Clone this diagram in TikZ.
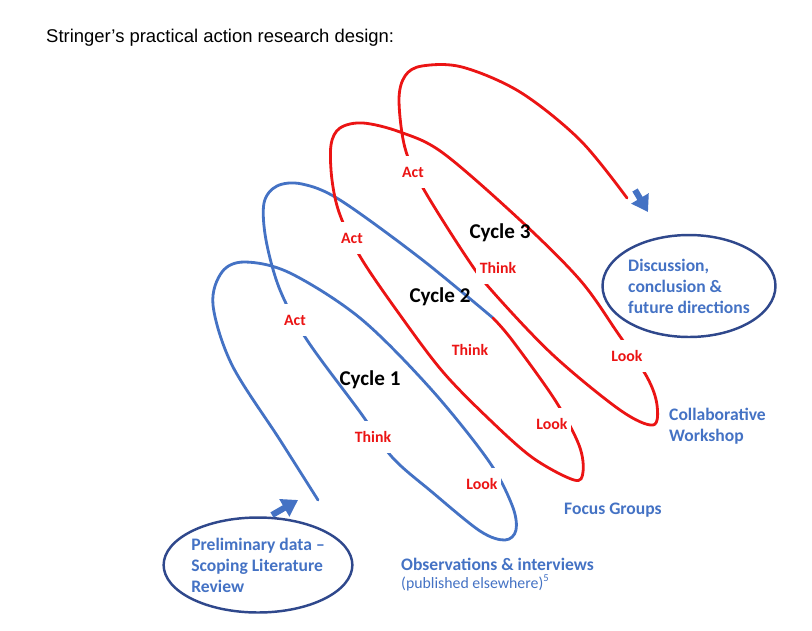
\documentclass[tikz,border=0pt]{standalone}
\usepackage{fontspec}
\setmainfont{Carlito}
\newfontfamily\titlefont{Liberation Sans}
\usetikzlibrary{arrows.meta,shapes.geometric}
\definecolor{cycblue}{RGB}{68,114,196}
\definecolor{darkblue}{RGB}{47,72,140}
\definecolor{cycred}{RGB}{235,20,20}
\begin{document}
\begin{tikzpicture}[x=0.02cm,y=-0.02cm,
    loop/.style={line width=1.6pt,line cap=round},
    phase/.style={fill=white,inner xsep=2pt,inner ysep=6pt,text=cycred,font=\bfseries\small},
    cyc/.style={font=\bfseries\large},
    blab/.style={text=cycblue,font=\bfseries,align=left},
    stage/.style={draw=darkblue,line width=1.4pt,ellipse,minimum width=3.52cm,minimum height=1.9cm,
                  text=cycblue,font=\bfseries,align=left,inner sep=0pt},
    big/.style={-{Triangle[length=9pt,width=11pt]},line width=3.5pt,cycblue}]
  \useasboundingbox (0,0) rectangle (812,630);
  \node[anchor=west,font=\titlefont\fontsize{10.5}{12}\selectfont] (title) at (40,38) {Stringer’s practical action research design:};

  % the spiral
  \draw[loop,cycblue] plot[smooth,tension=0.55] coordinates {(318,500) (280,440) (232,365) (213,305)
      (222,272) (245,262) (290,273) (360,318) (430,388) (488,460) (512,505) (516,530) (505,540)
      (480,531) (432,492) (392,457) (360,412) (307,340) (280,290) (266,240) (264,203) (277,186)
      (302,184) (340,200) (420,258) (493,318)};
  \draw[loop,cycred] plot[smooth,tension=0.55] coordinates {(493,318) (512,340) (555,400) (579,445)
      (583,472) (574,480) (533,458) (490,420) (443,372) (400,315) (361,258) (340,215) (332,180)
      (331,145) (340,128) (363,123) (400,132) (443,153) (520,220) (580,280) (617,332) (647,377)
      (657,405) (653,425) (620,410) (553,355) (493,292) (467,258) (423,188) (405,148) (399,100)
      (405,76) (422,66) (462,67) (520,92) (580,140) (627,198)};

  % labels on the loops
  \node[phase] (act1) at (295,320) {Act};
  \node[phase] (think1) at (373,437) {Think};
  \node[phase] (look1) at (482,484) {Look};
  \node[phase] (act2) at (352,238) {Act};
  \node[phase] (think2) at (470,350) {Think};
  \node[phase] (look2) at (552,424) {Look};
  \node[phase] (act3) at (413,172) {Act};
  \node[phase] (think3) at (498,268) {Think};
  \node[phase] (look3) at (627,356) {Look};
  \node[cyc] (c1) at (370,380) {Cycle 1};
  \node[cyc] (c2) at (440,297) {Cycle 2};
  \node[cyc] (c3) at (500,233) {Cycle 3};

  % stages
  \node[stage] (prelim) at (258,565) {Preliminary data –\\Scoping Literature\\Review};
  \node[stage,minimum width=3.46cm,minimum height=2.04cm] (disc) at (689,286) {Discussion,\\conclusion \&\\future directions};
  \node[blab,anchor=north west] (obs) at (395,552) {Observations \& interviews\\[-2pt]{\mdseries\small (published elsewhere)\textsuperscript{5}}};
  \node[blab,anchor=west] (focus) at (558,510) {Focus Groups};
  \node[blab,anchor=west] (collab) at (663,426) {Collaborative\\Workshop};

  \coordinate (s1) at (272,515);
  \coordinate (e1) at (298,500);
  \coordinate (s2) at (635,190);
  \coordinate (e2) at (648,212);
  \draw[big] (s1) -- (e1);
  \draw[big] (s2) -- (e2);
\end{tikzpicture}
\end{document}
